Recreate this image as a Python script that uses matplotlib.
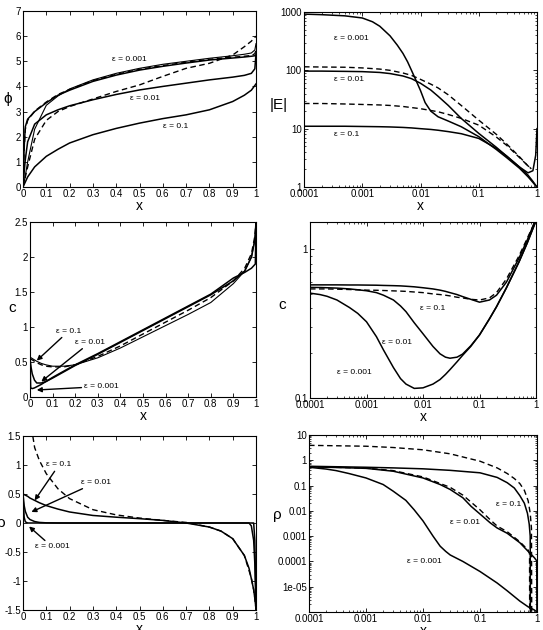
import matplotlib
matplotlib.use("Agg")
import matplotlib.pyplot as plt
from matplotlib.ticker import FixedLocator, FormatStrFormatter, LogLocator, NullFormatter

plt.rcParams['font.family'] = ['Liberation Sans', 'DejaVu Sans']

# ---- panel 1: potential phi(x)
x_phi = [0, 0.005, 0.01, 0.02, 0.05, 0.1, 0.15, 0.2, 0.3, 0.4, 0.5, 0.6, 0.7, 0.8, 0.9, 0.95, 0.98, 0.995, 1.0]
phi_s001 = [0, 1.6, 2.4, 2.7, 3.0, 3.35, 3.65, 3.85, 4.2, 4.45, 4.65, 4.8, 4.93, 5.05, 5.13, 5.17, 5.2, 5.22, 5.25]
phi_d001 = [0, 1.5, 2.3, 2.65, 3.02, 3.38, 3.68, 3.88, 4.23, 4.48, 4.68, 4.83, 4.96, 5.08, 5.16, 5.2, 5.23, 5.3, 5.45]
phi_d01 = [0, 0.2, 0.45, 1.0, 2.3, 3.25, 3.62, 3.9, 4.26, 4.52, 4.72, 4.88, 5.0, 5.12, 5.22, 5.28, 5.33, 5.45, 5.7]
phi_s01 = [0, 0.6, 1.1, 1.8, 2.5, 2.87, 3.07, 3.23, 3.47, 3.68, 3.86, 4.0, 4.13, 4.26, 4.37, 4.44, 4.52, 4.7, 5.3]
x_phi1 = [0, 0.02, 0.05, 0.1, 0.15, 0.2, 0.3, 0.4, 0.5, 0.6, 0.7, 0.8, 0.9, 0.95, 0.98, 1.0]
phi_s1 = [0, 0.4, 0.8, 1.22, 1.5, 1.75, 2.08, 2.33, 2.54, 2.72, 2.87, 3.07, 3.4, 3.65, 3.85, 4.1]
phi_d1 = [0, 0.8, 1.9, 2.65, 3.0, 3.2, 3.5, 3.8, 4.06, 4.4, 4.72, 4.92, 5.25, 5.58, 5.8, 6.0]

# ---- panel 2: |E| (log-log)
x_E001 = [1e-4, 2e-4, 5e-4, 1e-3, 1.5e-3, 2e-3, 3e-3, 4e-3, 5e-3, 6e-3, 7e-3, 8.5e-3, 1e-2, 1.2e-2,
          1.5e-2, 2e-2, 3e-2, 5e-2, 0.1, 0.2, 0.3, 0.5, 0.7, 0.85, 0.95, 1.0]
E_s001 = [920, 900, 860, 790, 680, 570, 390, 270, 195, 140, 100, 65, 45, 28,
          20, 16, 13.5, 10.8, 7.3, 4.4, 3.2, 2.1, 1.5, 1.2, 1.05, 1.0]
x_E = [1e-4, 2e-4, 5e-4, 1e-3, 2e-3, 3e-3, 5e-3, 7e-3, 1e-2, 1.5e-2, 2e-2, 3e-2, 5e-2, 0.1, 0.2, 0.3, 0.5, 0.7, 0.85, 0.95, 1.0]
E_s01 = [97, 97, 96, 95, 92, 88, 80, 72, 60, 46, 36, 25, 15, 8.3, 4.8, 3.4, 2.2, 1.75, 1.9, 3.5, 10]
E_s1 = [11, 11, 11, 10.9, 10.8, 10.7, 10.5, 10.3, 10, 9.7, 9.4, 8.9, 8.2, 6.8, 4.6, 3.4, 2.2, 1.6, 1.25, 1.07, 1.0]
x_Ed = [1e-4, 2e-4, 5e-4, 1e-3, 2e-3, 3e-3, 5e-3, 7e-3, 1e-2, 1.5e-2, 2e-2, 3e-2, 5e-2, 0.1, 0.2, 0.3, 0.5, 0.7, 0.8]
E_d01 = [115, 114, 113, 110, 105, 100, 90, 82, 70, 58, 50, 38, 25, 14, 8, 5.5, 3.3, 2.3, 2.1]
E_d1 = [27, 27, 26.5, 26, 25.5, 25, 24, 23, 22, 20.5, 19.5, 17.5, 15, 11.5, 7.2, 5.2, 3.2, 2.3, 2.05]

# ---- panel 3: c(x)
x_c = [0, 0.005, 0.01, 0.02, 0.03, 0.05, 0.07, 0.1, 0.15, 0.2, 0.3, 0.4, 0.5, 0.6, 0.7, 0.8, 0.9, 0.95, 0.98, 0.995, 1.0]
c_s1 = [0.57, 0.56, 0.55, 0.53, 0.51, 0.48, 0.46, 0.44, 0.44, 0.46, 0.56, 0.7, 0.86, 1.02, 1.18, 1.35, 1.62, 1.8, 2.0, 2.25, 2.45]
c_d1 = [0.55, 0.54, 0.53, 0.51, 0.49, 0.46, 0.44, 0.43, 0.43, 0.46, 0.58, 0.73, 0.9, 1.07, 1.24, 1.42, 1.66, 1.84, 2.05, 2.3, 2.5]
c_s01 = [0.55, 0.42, 0.33, 0.24, 0.2, 0.2, 0.22, 0.27, 0.36, 0.45, 0.61, 0.78, 0.95, 1.12, 1.29, 1.46, 1.66, 1.8, 2.0, 2.25, 2.5]
x_c001 = [0, 0.003, 0.01, 0.02, 0.05, 0.1, 0.2, 0.3, 0.4, 0.5, 0.6, 0.7, 0.8, 0.9, 0.95, 0.98, 0.997, 1.0]
c_s001 = [0.55, 0.13, 0.12, 0.13, 0.18, 0.28, 0.46, 0.62, 0.79, 0.96, 1.13, 1.3, 1.47, 1.7, 1.78, 1.84, 1.9, 2.5]

# ---- panel 4: c (log-log)
x_cl = [1e-4, 1.5e-4, 2e-4, 3e-4, 5e-4, 7e-4, 1e-3, 1.5e-3, 2e-3, 3e-3, 4e-3, 5e-3, 7e-3, 1e-2,
        1.5e-2, 2e-2, 2.5e-2, 3e-2, 4e-2, 5e-2, 7e-2, 0.1, 0.15, 0.2, 0.3, 0.5, 0.7, 1.0]
cl_s1 = [0.575, 0.575, 0.575, 0.575, 0.574, 0.574, 0.573, 0.572, 0.57, 0.568, 0.566, 0.563, 0.558, 0.55,
         0.54, 0.53, 0.52, 0.51, 0.495, 0.48, 0.46, 0.44, 0.455, 0.49, 0.6, 0.87, 1.15, 1.6]
cl_d1 = [0.54, 0.54, 0.54, 0.538, 0.535, 0.533, 0.53, 0.529, 0.527, 0.524, 0.522, 0.52, 0.515, 0.51,
         0.5, 0.495, 0.49, 0.485, 0.475, 0.47, 0.46, 0.455, 0.47, 0.51, 0.63, 0.9, 1.18, 1.58]
cl_s01 = [0.553, 0.552, 0.55, 0.547, 0.54, 0.533, 0.525, 0.51, 0.49, 0.455, 0.415, 0.38, 0.32, 0.27,
          0.222, 0.198, 0.188, 0.185, 0.188, 0.197, 0.224, 0.265, 0.34, 0.41, 0.55, 0.82, 1.1, 1.55]
cl_s001 = [0.506, 0.495, 0.482, 0.455, 0.405, 0.37, 0.325, 0.258, 0.21, 0.16, 0.135, 0.124, 0.116, 0.117,
           0.124, 0.133, 0.144, 0.155, 0.175, 0.193, 0.222, 0.265, 0.34, 0.41, 0.55, 0.82, 1.1, 1.55]

# ---- panel 5: rho(x)
x_r = [0, 0.005, 0.01, 0.02, 0.03, 0.05, 0.07, 0.1, 0.15, 0.2, 0.3, 0.4, 0.5, 0.6, 0.7, 0.8, 0.85, 0.9, 0.95, 0.97, 0.98, 0.99, 0.995, 1.0]
r_s1 = [0.5, 0.49, 0.48, 0.46, 0.43, 0.39, 0.35, 0.3, 0.24, 0.19, 0.13, 0.1, 0.075, 0.045, 0.0, -0.07, -0.14, -0.27, -0.56, -0.78, -0.96, -1.15, -1.3, -1.48]
r_s01 = [0.5, 0.3, 0.2, 0.1, 0.06, 0.025, 0.01, 0.003, 0, 0, 0, 0, 0, 0, 0, 0, 0, 0, 0, 0, -0.05, -0.3, -0.7, -1.4]
r_s001 = [0.45, 0.1, 0.02, 0, 0, 0, 0, 0, 0, 0, 0, 0, 0, 0, 0, 0, 0, 0, 0, 0, 0, 0, -0.3, -1.5]
x_rd = [0.03, 0.05, 0.07, 0.1, 0.15, 0.2, 0.3, 0.4, 0.5, 0.6, 0.7, 0.8, 0.85, 0.9, 0.95, 0.98, 0.99, 0.995, 1.0]
r_d1 = [1.8, 1.3, 1.08, 0.85, 0.59, 0.42, 0.23, 0.14, 0.085, 0.045, 0.01, -0.07, -0.14, -0.27, -0.56, -0.95, -1.15, -1.3, -1.5]

# ---- panel 6: rho (log-log)
x_rl1 = [1e-4, 1e-3, 3e-3, 1e-2, 3e-2, 0.1, 0.2, 0.3, 0.4, 0.5, 0.6, 0.68, 0.73, 0.76, 0.765]
rl_s1 = [0.58, 0.53, 0.5, 0.46, 0.4, 0.32, 0.21, 0.13, 0.08, 0.04, 0.02, 0.008, 0.003, 0.001, 1e-7]
x_rld1 = [1e-4, 1e-3, 3e-3, 1e-2, 3e-2, 0.1, 0.2, 0.3, 0.4, 0.5, 0.6, 0.7, 0.76, 0.8, 0.81]
rl_d1 = [3.9, 3.6, 3.2, 2.6, 1.8, 0.92, 0.5, 0.3, 0.19, 0.12, 0.065, 0.025, 0.008, 0.002, 1e-7]
x_rl01 = [1e-4, 3e-4, 1e-3, 3e-3, 1e-2, 2e-2, 3e-2, 5e-2, 0.07, 0.1, 0.15, 0.2, 0.3, 0.5, 0.7, 0.9, 0.99, 1.0]
rl_s01 = [0.55, 0.52, 0.48, 0.37, 0.2, 0.11, 0.07, 0.033, 0.015, 0.0075, 0.0034, 0.0021, 0.0013, 5.5e-4, 2.5e-4, 1.4e-4, 1.05e-4, 1e-7]
x_rld01 = [1e-4, 1e-3, 3e-3, 1e-2, 3e-2, 5e-2, 0.1, 0.15, 0.2, 0.3, 0.5, 0.7, 0.74, 0.745]
rl_d01 = [0.56, 0.49, 0.39, 0.22, 0.085, 0.042, 0.011, 0.0045, 0.0025, 0.0015, 6e-4, 2.8e-4, 2e-4, 1e-7]
x_rl001 = [1e-4, 2e-4, 3e-4, 5e-4, 1e-3, 2e-3, 3e-3, 5e-3, 7e-3, 1e-2, 1.5e-2, 2e-2, 2.5e-2, 3e-2, 5e-2, 0.1, 0.2, 0.3, 0.5, 0.7, 0.9, 1.0]
rl_s001 = [0.53, 0.45, 0.39, 0.3, 0.2, 0.11, 0.06, 0.026, 0.011, 0.004, 0.001, 4e-4, 2.5e-4, 1.8e-4, 1e-4, 4e-5, 1.4e-5, 6.9e-6, 2.7e-6, 1.6e-6, 1.2e-6, 1e-6]

W, H = 543, 630
fig = plt.figure(figsize=(W / 100, H / 100), dpi=100)


def px_axes(l, t, r, b):
    return fig.add_axes([l / W, 1 - b / H, (r - l) / W, (b - t) / H])


def style(ax, ylabel, ylab_x, ylab_y=0.5):
    ax.tick_params(which="both", direction="in", top=True, right=True, labelsize=7, pad=1.5)
    ax.tick_params(which="major", length=3, width=0.6)
    ax.tick_params(which="minor", length=1.5, width=0.5)
    for s in ax.spines.values():
        s.set_linewidth(0.8)
    ax.set_xlabel("x", fontsize=10, labelpad=0)
    ax.set_ylabel(ylabel, fontsize=11, rotation=0, va="center", ha="center")
    ax.yaxis.set_label_coords(ylab_x, ylab_y)


def lin_x(ax):
    ax.set_xlim(0, 1)
    ax.xaxis.set_major_locator(FixedLocator([i / 10 for i in range(11)]))
    ax.xaxis.set_major_formatter(FormatStrFormatter("%g"))
    ax.yaxis.set_major_formatter(FormatStrFormatter("%g"))


def log_x(ax):
    ax.set_xscale("log")
    ax.set_xlim(1e-4, 1)
    ax.xaxis.set_major_locator(FixedLocator([1e-4, 1e-3, 1e-2, 1e-1, 1]))
    ax.xaxis.set_major_formatter(FormatStrFormatter("%g"))
    ax.xaxis.set_minor_locator(LogLocator(base=10, subs=range(2, 10), numticks=20))
    ax.xaxis.set_minor_formatter(NullFormatter())


def log_y(ax, ticks):
    ax.set_yscale("log")
    ax.yaxis.set_major_locator(FixedLocator(ticks))
    ax.yaxis.set_major_formatter(FormatStrFormatter("%g"))
    ax.yaxis.set_minor_locator(LogLocator(base=10, subs=range(2, 10), numticks=20))
    ax.yaxis.set_minor_formatter(NullFormatter())


SOL = dict(color="black", lw=1.1)
THIN = dict(color="black", lw=0.8)
DSH = dict(color="black", lw=1.0, ls=(0, (4, 2.5)))
LAB = dict(fontsize=6)
arr = dict(arrowstyle="-|>", color="black", lw=1.0, mutation_scale=7, shrinkA=0, shrinkB=0)

# panel 1
ax1 = px_axes(23, 11, 256, 187)
ax1.plot(x_phi, phi_s001, **SOL)
ax1.plot(x_phi, phi_d001, **DSH)
ax1.plot(x_phi, phi_d01, **THIN)
ax1.plot(x_phi, phi_s01, **SOL)
ax1.plot(x_phi1, phi_s1, **SOL)
ax1.plot(x_phi1, phi_d1, **DSH)
ax1.set_ylim(0, 7)
lin_x(ax1)
style(ax1, "ϕ", -0.065)
ax1.text(0.38, 5.0, "ε = 0.001", **LAB)
ax1.text(0.46, 3.45, "ε = 0.01", **LAB)
ax1.text(0.6, 2.35, "ε = 0.1", **LAB)

# panel 2
ax2 = px_axes(304, 12, 537, 187)
ax2.plot(x_E001, E_s001, **SOL)
ax2.plot(x_E, E_s01, **SOL)
ax2.plot(x_E, E_s1, **SOL)
ax2.plot(x_Ed, E_d01, **DSH)
ax2.plot(x_Ed, E_d1, **DSH)
log_x(ax2)
ax2.set_ylim(1, 1000)
log_y(ax2, [1, 10, 100, 1000])
style(ax2, "|E|", -0.107, 0.47)
ax2.text(3.3e-4, 330, "ε = 0.001", **LAB)
ax2.text(3.3e-4, 66, "ε = 0.01", **LAB)
ax2.text(3.3e-4, 7.4, "ε = 0.1", **LAB)

# panel 3
ax3 = px_axes(30, 222, 256, 397)
ax3.plot(x_c, c_s1, **THIN)
ax3.plot(x_c, c_d1, **DSH)
ax3.plot(x_c, c_s01, **SOL)
ax3.plot(x_c001, c_s001, **SOL)
ax3.set_ylim(0, 2.5)
lin_x(ax3)
ax3.yaxis.set_major_locator(FixedLocator([0, 0.5, 1, 1.5, 2, 2.5]))
style(ax3, "c", -0.08, 0.51)
ax3.annotate("ε = 0.1", xy=(0.03, 0.52), xytext=(0.115, 0.94), fontsize=6,
             arrowprops=arr, ha="left", va="center")
ax3.annotate("ε = 0.01", xy=(0.05, 0.22), xytext=(0.2, 0.78), fontsize=6,
             arrowprops=arr, ha="left", va="center")
ax3.annotate("ε = 0.001", xy=(0.03, 0.1), xytext=(0.24, 0.15), fontsize=6,
             arrowprops=arr, ha="left", va="center")

# panel 4
ax4 = px_axes(310, 222, 536, 398)
ax4.plot(x_cl, cl_s1, **SOL)
ax4.plot(x_cl, cl_d1, **DSH)
ax4.plot(x_cl, cl_s01, **SOL)
ax4.plot(x_cl, cl_s001, **SOL)
log_x(ax4)
ax4.set_ylim(0.1, 1.52)
log_y(ax4, [0.1, 1])
style(ax4, "c", -0.124, 0.53)
ax4.text(0.009, 0.39, "ε = 0.1", **LAB)
ax4.text(0.0019, 0.23, "ε = 0.01", **LAB)
ax4.text(3e-4, 0.145, "ε = 0.001", **LAB)

# panel 5
ax5 = px_axes(23, 436, 256, 610)
ax5.plot(x_r, r_s1, **SOL)
ax5.plot(x_r, r_s01, **SOL)
ax5.plot(x_r, r_s001, **SOL)
ax5.plot(x_rd, r_d1, **DSH)
ax5.set_ylim(-1.5, 1.5)
lin_x(ax5)
ax5.yaxis.set_major_locator(FixedLocator([-1.5, -1, -0.5, 0, 0.5, 1, 1.5]))
style(ax5, "ρ", -0.095)
ax5.annotate("ε = 0.1", xy=(0.05, 0.39), xytext=(0.1, 1.0), fontsize=6,
             arrowprops=arr, ha="left", va="center")
ax5.annotate("ε = 0.01", xy=(0.036, 0.19), xytext=(0.25, 0.7), fontsize=6,
             arrowprops=arr, ha="left", va="center")
ax5.annotate("ε = 0.001", xy=(0.026, -0.06), xytext=(0.05, -0.41), fontsize=6,
             arrowprops=arr, ha="left", va="center")

# panel 6
ax6 = px_axes(309, 435, 537, 612)
ax6.plot(x_rl1, rl_s1, **SOL)
ax6.plot(x_rld1, rl_d1, **DSH)
ax6.plot(x_rl01, rl_s01, **SOL)
ax6.plot(x_rld01, rl_d01, **DSH)
ax6.plot(x_rl001, rl_s001, **SOL)
log_x(ax6)
ax6.set_ylim(1e-6, 10)
log_y(ax6, [1e-5, 1e-4, 1e-3, 1e-2, 1e-1, 1, 10])
style(ax6, "ρ", -0.14, 0.55)
ax6.text(0.19, 0.015, "ε = 0.1", **LAB)
ax6.text(0.03, 0.003, "ε = 0.01", **LAB)
ax6.text(0.0053, 9e-5, "ε = 0.001", **LAB)

fig.savefig("out.png", dpi=100)
